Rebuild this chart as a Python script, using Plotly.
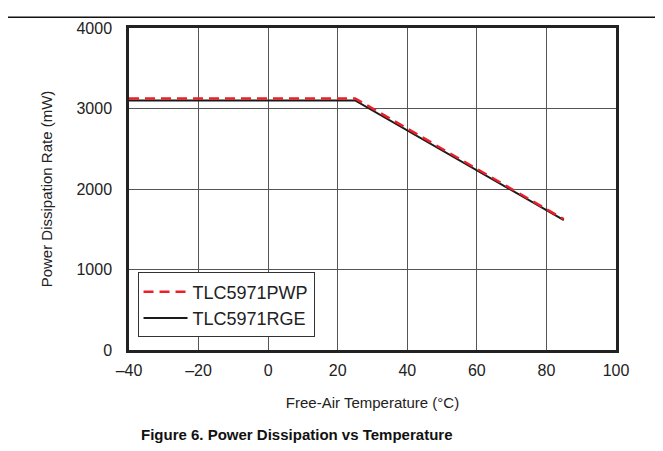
import plotly.graph_objects as go

temp_pwp = [-40, 25, 85]
power_pwp = [3125, 3125, 1625]
temp_rge = [-40, 25, 85]
power_rge = [3100, 3100, 1612]
x_ticks = [-40, -20, 0, 20, 40, 60, 80, 100]
x_ticktext = ["\u201340", "\u201320", "0", "20", "40", "60", "80", "100"]
y_ticks = [0, 1000, 2000, 3000, 4000]

fig = go.Figure()
fig.add_trace(go.Scatter(x=temp_rge, y=power_rge, mode="lines", name="TLC5971RGE",
                         line=dict(color="#1a1a1a", width=2)))
fig.add_trace(go.Scatter(x=temp_pwp, y=power_pwp, mode="lines", name="TLC5971PWP",
                         line=dict(color="#e8202a", width=2.5, dash="10px,6px")))

font = "Liberation Sans, Arial, sans-serif"
L, R, T, B = 121, 47, 12, 101
W, H = 655, 443
pw, ph = W - L - R, H - T - B
fig.update_layout(
    width=W, height=H,
    margin=dict(l=L, r=R, t=T, b=B),
    paper_bgcolor="white", plot_bgcolor="white",
    font=dict(family=font, size=16, color="#222"),
    showlegend=True,
    legend=dict(x=0.0175, y=0.039, xanchor="left", yanchor="bottom",
                bgcolor="white", bordercolor="#333", borderwidth=1,
                traceorder="reversed", font=dict(size=18), itemwidth=44),
    xaxis=dict(range=[-40, 100], tickvals=x_ticks, ticktext=x_ticktext,
               showgrid=True, gridcolor="#555", gridwidth=1,
               showline=True, linecolor="#222", linewidth=2.5, mirror=True,
               zeroline=False, ticks="", ticklabelstandoff=4,
               tickfont=dict(size=16),
               title=dict(text="Free-Air Temperature (\u00b0C)", standoff=20, font=dict(size=15))),
    yaxis=dict(range=[0, 4000], tickvals=y_ticks,
               showgrid=True, gridcolor="#555", gridwidth=1,
               showline=True, linecolor="#222", linewidth=2.5, mirror=True,
               zeroline=False, ticks="", ticklabelstandoff=11,
               tickfont=dict(size=16),
               title=dict(text="Power Dissipation Rate (mW)", standoff=21, font=dict(size=15))),
    shapes=[dict(type="line", xref="paper", yref="paper", x0=-L / pw, x1=1 + R / pw,
                 y0=1 + (T - 1) / ph, y1=1 + (T - 1) / ph, line=dict(color="#111", width=1.5))],
    annotations=[dict(text="<b>Figure 6. Power Dissipation vs Temperature</b>",
                      xref="paper", yref="paper", x=(296 - 8 - L) / pw, y=-87 / ph,
                      xanchor="center", yanchor="middle", showarrow=False,
                      font=dict(size=15, color="#111", family=font))],
)
fig.write_html("out.html")
